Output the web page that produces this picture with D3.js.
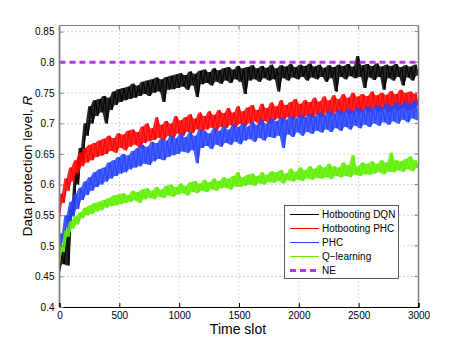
<!DOCTYPE html>
<html>
<head>
<meta charset="utf-8">
<script src="https://cdn.jsdelivr.net/npm/d3@7"></script>
<style>
  body { margin: 0; background: #fff; }
  svg { display: block; font-family: "Liberation Sans", Arial, sans-serif; }
</style>
</head>
<body>
<script>
// time slots sampled every 20 slots, 0..3000
var timeSlots = d3.range(0, 3001, 20);

// values, one row = 10 samples (200 slots)
var dqn = [
  0.455, 0.49, 0.47, 0.52, 0.468, 0.56, 0.55, 0.62, 0.60, 0.66,
  0.64, 0.70, 0.68, 0.728, 0.70, 0.738, 0.712, 0.74, 0.718, 0.745,
  0.70, 0.742, 0.722, 0.752, 0.73, 0.756, 0.735, 0.758, 0.738, 0.76,
  0.74, 0.765, 0.742, 0.762, 0.745, 0.768, 0.748, 0.77, 0.745, 0.772,
  0.75, 0.775, 0.752, 0.772, 0.735, 0.776, 0.755, 0.778, 0.756, 0.78,
  0.758, 0.782, 0.76, 0.779, 0.755, 0.785, 0.762, 0.781, 0.743, 0.786,
  0.764, 0.788, 0.766, 0.784, 0.762, 0.79, 0.768, 0.787, 0.765, 0.79,
  0.77, 0.792, 0.766, 0.788, 0.772, 0.794, 0.768, 0.79, 0.748, 0.792,
  0.77, 0.795, 0.772, 0.79, 0.768, 0.794, 0.774, 0.791, 0.77, 0.796,
  0.772, 0.79, 0.752, 0.795, 0.774, 0.793, 0.77, 0.797, 0.775, 0.792,
  0.772, 0.796, 0.776, 0.794, 0.77, 0.798, 0.775, 0.793, 0.772, 0.796,
  0.776, 0.791, 0.768, 0.795, 0.774, 0.792, 0.752, 0.796, 0.776, 0.794,
  0.772, 0.797, 0.777, 0.793, 0.774, 0.81, 0.776, 0.795, 0.758, 0.797,
  0.775, 0.794, 0.771, 0.798, 0.776, 0.793, 0.755, 0.796, 0.774, 0.794,
  0.77, 0.797, 0.776, 0.792, 0.762, 0.795, 0.775, 0.793, 0.77, 0.796,
  0.778
];
var hotPhc = [
  0.545, 0.585, 0.57, 0.61, 0.59, 0.628, 0.605, 0.64, 0.618, 0.652,
  0.63, 0.66, 0.636, 0.665, 0.64, 0.668, 0.645, 0.672, 0.647, 0.675,
  0.65, 0.68, 0.655, 0.676, 0.652, 0.684, 0.66, 0.682, 0.656, 0.688,
  0.662, 0.69, 0.665, 0.686, 0.66, 0.695, 0.668, 0.70, 0.671, 0.692,
  0.673, 0.71, 0.676, 0.698, 0.672, 0.704, 0.679, 0.70, 0.676, 0.712,
  0.683, 0.705, 0.68, 0.71, 0.686, 0.715, 0.684, 0.708, 0.69, 0.718,
  0.687, 0.712, 0.69, 0.72, 0.693, 0.714, 0.688, 0.722, 0.694, 0.717,
  0.692, 0.725, 0.697, 0.718, 0.694, 0.728, 0.699, 0.72, 0.696, 0.726,
  0.70, 0.73, 0.703, 0.722, 0.698, 0.732, 0.704, 0.725, 0.70, 0.734,
  0.705, 0.728, 0.708, 0.738, 0.703, 0.73, 0.71, 0.735, 0.706, 0.74,
  0.71, 0.732, 0.707, 0.738, 0.712, 0.735, 0.709, 0.742, 0.714, 0.736,
  0.71, 0.744, 0.716, 0.738, 0.713, 0.746, 0.718, 0.74, 0.714, 0.748,
  0.718, 0.742, 0.715, 0.75, 0.72, 0.744, 0.717, 0.748, 0.722, 0.745,
  0.718, 0.752, 0.723, 0.746, 0.72, 0.75, 0.724, 0.747, 0.719, 0.753,
  0.724, 0.748, 0.721, 0.755, 0.726, 0.75, 0.722, 0.752, 0.725, 0.749,
  0.728
];
var phc = [
  0.475, 0.52, 0.505, 0.55, 0.53, 0.572, 0.548, 0.585, 0.56, 0.595,
  0.575, 0.605, 0.583, 0.612, 0.59, 0.62, 0.596, 0.625, 0.60, 0.628,
  0.605, 0.636, 0.61, 0.64, 0.614, 0.645, 0.618, 0.65, 0.62, 0.648,
  0.625, 0.655, 0.628, 0.66, 0.63, 0.665, 0.634, 0.662, 0.632, 0.67,
  0.638, 0.668, 0.642, 0.675, 0.64, 0.672, 0.645, 0.68, 0.648, 0.676,
  0.65, 0.684, 0.654, 0.678, 0.652, 0.686, 0.656, 0.68, 0.635, 0.69,
  0.66, 0.688, 0.663, 0.684, 0.658, 0.692, 0.665, 0.688, 0.662, 0.695,
  0.668, 0.69, 0.665, 0.698, 0.67, 0.694, 0.666, 0.70, 0.672, 0.695,
  0.674, 0.703, 0.67, 0.698, 0.676, 0.706, 0.672, 0.70, 0.678, 0.708,
  0.676, 0.704, 0.68, 0.71, 0.66, 0.706, 0.682, 0.712, 0.678, 0.708,
  0.685, 0.714, 0.68, 0.71, 0.686, 0.716, 0.683, 0.712, 0.688, 0.718,
  0.685, 0.714, 0.69, 0.72, 0.686, 0.716, 0.692, 0.722, 0.688, 0.718,
  0.694, 0.724, 0.69, 0.72, 0.696, 0.726, 0.692, 0.722, 0.698, 0.728,
  0.694, 0.724, 0.70, 0.73, 0.696, 0.726, 0.702, 0.732, 0.698, 0.728,
  0.703, 0.734, 0.70, 0.73, 0.706, 0.736, 0.702, 0.732, 0.708, 0.738,
  0.705
];
var qLearning = [
  0.47, 0.50, 0.49, 0.525, 0.515, 0.54, 0.528, 0.548, 0.535, 0.555,
  0.545, 0.562, 0.55, 0.566, 0.552, 0.57, 0.556, 0.572, 0.558, 0.575,
  0.562, 0.578, 0.565, 0.582, 0.566, 0.584, 0.568, 0.586, 0.57, 0.583,
  0.572, 0.59, 0.574, 0.588, 0.57, 0.592, 0.576, 0.594, 0.578, 0.59,
  0.576, 0.596, 0.58, 0.592, 0.578, 0.598, 0.582, 0.60, 0.58, 0.596,
  0.584, 0.602, 0.586, 0.598, 0.582, 0.604, 0.588, 0.606, 0.586, 0.602,
  0.59, 0.608, 0.588, 0.604, 0.592, 0.61, 0.59, 0.606, 0.594, 0.612,
  0.595, 0.61, 0.592, 0.614, 0.597, 0.62, 0.596, 0.612, 0.598, 0.616,
  0.60, 0.618, 0.598, 0.614, 0.602, 0.62, 0.60, 0.616, 0.604, 0.622,
  0.603, 0.62, 0.606, 0.624, 0.602, 0.618, 0.607, 0.626, 0.605, 0.621,
  0.608, 0.628, 0.606, 0.624, 0.61, 0.63, 0.608, 0.626, 0.611, 0.632,
  0.61, 0.628, 0.612, 0.634, 0.609, 0.63, 0.614, 0.628, 0.612, 0.636,
  0.614, 0.632, 0.612, 0.648, 0.616, 0.63, 0.614, 0.636, 0.617, 0.634,
  0.616, 0.638, 0.618, 0.634, 0.62, 0.64, 0.617, 0.636, 0.621, 0.652,
  0.62, 0.64, 0.623, 0.638, 0.621, 0.642, 0.625, 0.646, 0.622, 0.64,
  0.627
];
var neLevel = [0.8, 0.8];
var neSlots = [0, 3000];

var seriesNames = ["Hotbooting DQN", "Hotbooting PHC", "PHC", "Q\u2212learning", "NE"];
var seriesColors = ["#000000", "#ff0000", "#2443ff", "#5ef000", "#b535f0"];
var xTicks = [0, 500, 1000, 1500, 2000, 2500, 3000];
var yTicks = [0.4, 0.45, 0.5, 0.55, 0.6, 0.65, 0.7, 0.75, 0.8, 0.85];

var W = 461, H = 346;
var padL = 59.5, padR = 418.5, padT = 25.5, padB = 307;

var svg = d3.select("body").append("svg")
  .attr("width", W)
  .attr("height", H);

svg.append("rect").attr("width", W).attr("height", H).attr("fill", "#fff");

var x = d3.scaleLinear().domain([0, 3000]).range([padL, padR]);
var y = d3.scaleLinear().domain([0.4, 0.86]).range([padB, padT]);

// dotted grid
var grid = svg.append("g").attr("stroke", "#9a9a9a").attr("stroke-width", 0.8)
  .attr("stroke-dasharray", "1,3");
grid.selectAll(".gx").data(xTicks.slice(1, -1)).enter().append("line")
  .attr("x1", d => x(d)).attr("x2", d => x(d))
  .attr("y1", padT).attr("y2", padB);
grid.selectAll(".gy").data(yTicks.slice(1)).enter().append("line")
  .attr("x1", padL).attr("x2", padR)
  .attr("y1", d => y(d)).attr("y2", d => y(d));

// series: the noisy trace is so dense in the original that it reads as a band,
// so fill between neighbouring samples and stroke the trace on top
var line = d3.line()
  .x(d => x(d[0]))
  .y(d => y(d[1]));

var band = d3.area()
  .x(d => x(d.t))
  .y0(d => y(d.lo))
  .y1(d => y(d.hi));

var plot = svg.append("g");
[dqn, hotPhc, phc, qLearning].forEach(function(vals, i) {
  var pts = d3.zip(timeSlots, vals);
  var env = pts.map(function(p, k) {
    var nb = vals.slice(k, k + 2);
    return {t: p[0], lo: d3.min(nb), hi: d3.max(nb)};
  });
  plot.append("path")
    .datum(env)
    .attr("fill", seriesColors[i])
    .attr("fill-opacity", 0.85)
    .attr("d", band);
  plot.append("path")
    .datum(pts)
    .attr("fill", "none")
    .attr("stroke", seriesColors[i])
    .attr("stroke-width", 1)
    .attr("stroke-linejoin", "bevel")
    .attr("d", line);
});

plot.append("path")
  .datum(d3.zip(neSlots, neLevel))
  .attr("fill", "none")
  .attr("stroke", seriesColors[4])
  .attr("stroke-width", 3)
  .attr("stroke-dasharray", "6,4")
  .attr("d", line);

// axes box
var box = svg.append("g").attr("fill", "none");
box.append("line").attr("x1", padL).attr("x2", padR).attr("y1", padT).attr("y2", padT)
  .attr("stroke", "#808080").attr("stroke-width", 1.2);
box.append("line").attr("x1", padR).attr("x2", padR).attr("y1", padT).attr("y2", padB)
  .attr("stroke", "#808080").attr("stroke-width", 1.5);
box.append("line").attr("x1", padL).attr("x2", padL).attr("y1", padT).attr("y2", padB)
  .attr("stroke", "#808080").attr("stroke-width", 1.8);

// axes with inward ticks
var xAxis = svg.append("g")
  .attr("transform", "translate(0," + padB + ")")
  .call(d3.axisBottom(x).tickValues(xTicks).tickSize(-4).tickPadding(5).tickFormat(d3.format("d")));
xAxis.select(".domain").attr("stroke", "#000").attr("stroke-width", 1.2);
xAxis.selectAll(".tick line").attr("stroke", "#000");

var yAxis = svg.append("g")
  .attr("transform", "translate(" + padL + ",0)")
  .call(d3.axisLeft(y).tickValues(yTicks).tickSize(-4).tickPadding(5)
    .tickFormat(d => String(+d.toFixed(2))));
yAxis.select(".domain").remove();
yAxis.selectAll(".tick line").attr("stroke", "#808080");

// mirrored ticks on the top and right
svg.append("g").selectAll("line").data(xTicks.slice(1, -1)).enter().append("line")
  .attr("x1", d => x(d)).attr("x2", d => x(d))
  .attr("y1", padT).attr("y2", padT + 4).attr("stroke", "#808080");
svg.append("g").selectAll("line").data(yTicks.slice(1)).enter().append("line")
  .attr("x1", padR - 4).attr("x2", padR)
  .attr("y1", d => y(d)).attr("y2", d => y(d)).attr("stroke", "#808080");

svg.selectAll(".tick text")
  .attr("font-family", "'Liberation Sans', Arial, sans-serif")
  .attr("font-size", 10)
  .attr("fill", "#000");

// axis labels
svg.append("text")
  .attr("x", 238).attr("y", 334)
  .attr("text-anchor", "middle")
  .attr("font-size", 14)
  .text("Time slot");

var yl = svg.append("text")
  .attr("transform", "translate(32,166) rotate(-90)")
  .attr("text-anchor", "middle")
  .attr("font-size", 13.5);
yl.append("tspan").text("Data protection level,  ");
yl.append("tspan").attr("font-style", "italic").text("R");

// legend
var lg = svg.append("g").attr("transform", "translate(284,205)");
lg.append("rect")
  .attr("x", 0.5).attr("y", 0.5).attr("width", 114).attr("height", 73)
  .attr("fill", "#fff").attr("stroke", "#333").attr("stroke-width", 0.8);

var rows = lg.selectAll(".row").data(seriesNames).enter().append("g")
  .attr("transform", (d, i) => "translate(0," + (9.5 + i * 14) + ")");
rows.append("line")
  .attr("x1", 6).attr("x2", 35).attr("y1", 0).attr("y2", 0)
  .attr("stroke", (d, i) => seriesColors[i])
  .attr("stroke-width", (d, i) => i == 4 ? 3 : 1)
  .attr("stroke-dasharray", (d, i) => i == 4 ? "6,4" : null);
rows.append("text")
  .attr("x", 38).attr("y", 3.5)
  .attr("font-size", 10)
  .text(d => d);
</script>
</body>
</html>
